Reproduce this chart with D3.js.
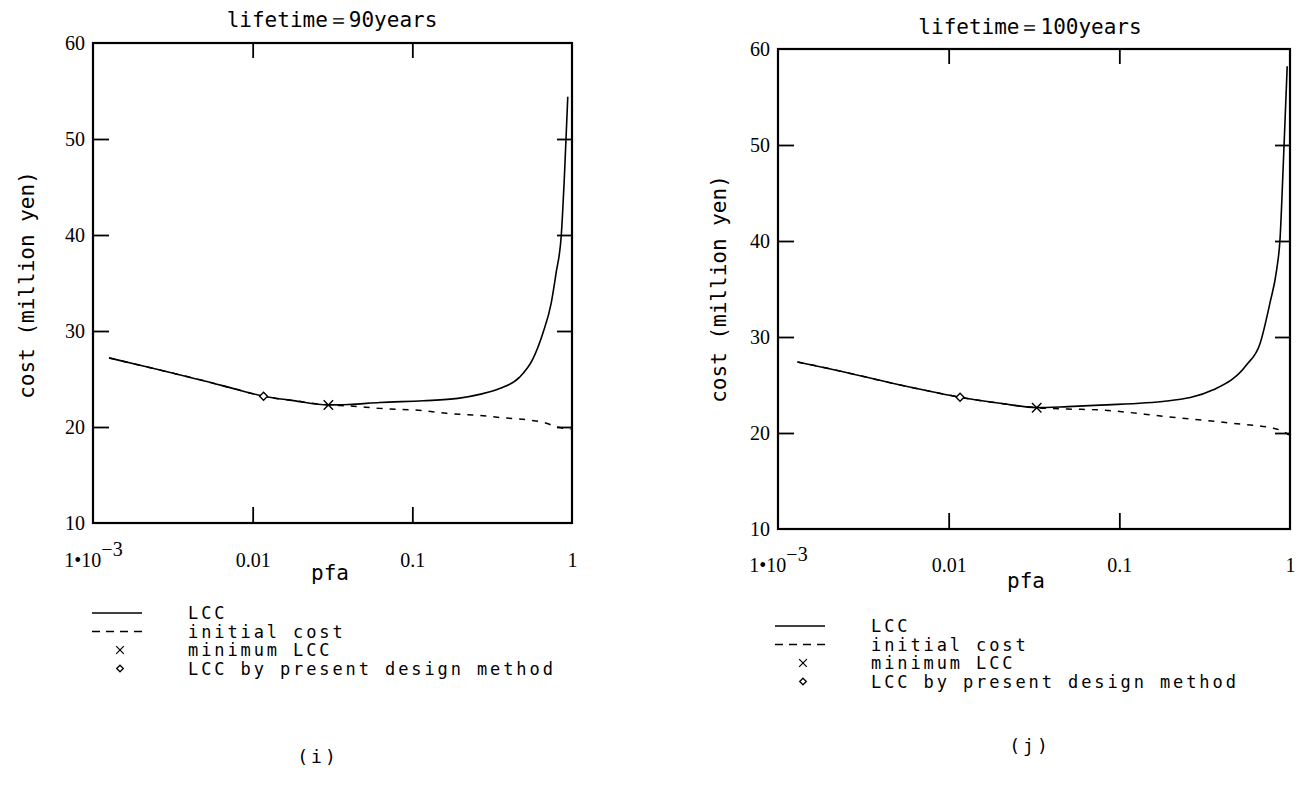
<!DOCTYPE html>
<html>
<head>
<meta charset="utf-8">
<script src="https://cdn.jsdelivr.net/npm/d3@7"></script>
<style>
  body { margin: 0; background: #fff; }
  svg text { fill: #000; }
  .mono { font-family: "DejaVu Sans Mono", "Liberation Mono", monospace; }
  .serif { font-family: "Liberation Serif", "DejaVu Serif", serif; }
</style>
</head>
<body>
<svg id="chart" width="1309" height="786"></svg>
<script>
  // ===== data: lifetime = 90 years =====
  var pfaLcc90 = [0.00126, 0.002, 0.003, 0.005, 0.008, 0.0117, 0.018, 0.0298, 0.04, 0.0626, 0.117, 0.193, 0.264, 0.352, 0.47, 0.569, 0.656, 0.741, 0.796, 0.857, 0.898, 0.941];
  var lcc90    = [27.2, 26.4, 25.7, 24.8, 23.9, 23.2, 22.75, 22.3, 22.35, 22.56, 22.73, 22.98, 23.4, 24.0, 25.2, 27.1, 29.75, 32.9, 36.1, 40.0, 46.4, 54.4];
  var pfaInit90 = [0.00126, 0.002, 0.003, 0.005, 0.008, 0.0117, 0.018, 0.0298, 0.04, 0.0626, 0.117, 0.164, 0.264, 0.369, 0.542, 0.69, 0.796, 0.941, 0.979];
  var init90    = [27.2, 26.4, 25.7, 24.8, 23.9, 23.2, 22.75, 22.3, 22.2, 21.94, 21.7, 21.42, 21.2, 20.96, 20.72, 20.4, 20.03, 19.8, 19.75];
  var minLcc90 = { pfa: 0.0298, cost: 22.3 };
  var design90 = { pfa: 0.0117, cost: 23.2 };

  // ===== data: lifetime = 100 years =====
  var pfaLcc100 = [0.0013, 0.002, 0.0052, 0.008, 0.01166, 0.02, 0.0328, 0.05, 0.077, 0.19, 0.355, 0.557, 0.667, 0.762, 0.835, 0.874, 0.914, 0.963];
  var lcc100    = [27.4, 26.7, 25.0, 24.3, 23.72, 23.1, 22.64, 22.75, 22.9, 23.33, 24.5, 27.1, 29.3, 33.5, 37.0, 40.2, 48.1, 58.2];
  var pfaInit100 = [0.0013, 0.002, 0.0052, 0.008, 0.01166, 0.02, 0.0328, 0.05, 0.077, 0.19, 0.465, 0.798, 0.955, 0.985];
  var init100    = [27.4, 26.7, 25.0, 24.3, 23.72, 23.1, 22.64, 22.5, 22.4, 21.7, 21.0, 20.5, 19.97, 19.8];
  var minLcc100 = { pfa: 0.0328, cost: 22.64 };
  var design100 = { pfa: 0.01166, cost: 23.72 };

  // ===== ticks / labels =====
  var xTickValues = [1e-3, 0.01, 0.1, 1];
  var xInnerTicks = [0.01, 0.1];
  var yTickValues = [10, 20, 30, 40, 50, 60];
  var yInnerTicks = [20, 30, 40, 50];
  var legendLabels = ['LCC', 'initial cost', 'minimum LCC', 'LCC by present design method'];

  var panels = [
    {
      title: 'lifetime＝90years', caption: '(i)',
      pfaLcc: pfaLcc90, lcc: lcc90, pfaInit: pfaInit90, init: init90,
      minLcc: minLcc90, design: design90,
      left: 93, right: 572, top: 43, bottom: 523,
      titleX: 332, titleY: 27, pfaX: 330, pfaY: 580, ylabelX: 27, ylabelY: 285,
      labelPad: 30, legendX: 92, legendY: 613, captionX: 318, captionY: 763
    },
    {
      title: 'lifetime＝100years', caption: '(j)',
      pfaLcc: pfaLcc100, lcc: lcc100, pfaInit: pfaInit100, init: init100,
      minLcc: minLcc100, design: design100,
      left: 778, right: 1290, top: 49, bottom: 529,
      titleX: 1030, titleY: 34, pfaX: 1026, pfaY: 588, ylabelX: 719, ylabelY: 289,
      labelPad: 29, legendX: 775, legendY: 626, captionX: 1030, captionY: 752
    }
  ];

  var svg = d3.select('#chart');

  var crossPath = d3.symbol().type(d3.symbolTimes || d3.symbolX).size(60);
  var diamondPath = d3.symbol().type(d3.symbolDiamond2 || d3.symbolDiamond).size(40);

  function drawPanel(p, idx) {
    var g = svg.append('g');
    var x = d3.scaleLog().domain([1e-3, 1]).range([p.left, p.right]);
    var y = d3.scaleLinear().domain([10, 60]).range([p.bottom, p.top]);

    var clipId = 'clip' + idx;
    svg.append('clipPath').attr('id', clipId)
      .append('rect')
      .attr('x', p.left).attr('y', p.top)
      .attr('width', p.right - p.left).attr('height', p.bottom - p.top);

    // 轴与刻度（向内）
    var bottomAxis = g.append('g')
      .attr('transform', 'translate(0,' + p.bottom + ')')
      .call(d3.axisBottom(x).tickValues(xTickValues).tickSize(0).tickPadding(p.labelPad)
        .tickFormat(function (d) { return d === 1e-3 ? '1\u202210' : (d === 1 ? '1' : d3.format('')(d)); }));
    bottomAxis.select('.domain').remove();
    bottomAxis.selectAll('text').attr('class', 'serif').style('font-size', '20px');
    bottomAxis.selectAll('.tick').filter(function (d) { return d === 1e-3; })
      .select('text')
      .append('tspan').attr('dy', '-0.55em').style('font-size', '20px').text('\u22123');

    g.append('g')
      .attr('transform', 'translate(0,' + p.bottom + ')')
      .call(d3.axisBottom(x).tickValues(xInnerTicks).tickSize(-16).tickFormat(''))
      .call(function (s) { s.select('.domain').remove(); });

    g.append('g')
      .attr('transform', 'translate(0,' + p.top + ')')
      .call(d3.axisTop(x).tickValues(xInnerTicks).tickSize(-15).tickFormat(''))
      .call(function (s) { s.select('.domain').remove(); });

    var leftAxis = g.append('g')
      .attr('transform', 'translate(' + p.left + ',0)')
      .call(d3.axisLeft(y).tickValues(yTickValues).tickSize(0).tickPadding(8).tickFormat(d3.format('d')));
    leftAxis.select('.domain').remove();
    leftAxis.selectAll('text').attr('class', 'serif').style('font-size', '20px');

    g.append('g')
      .attr('transform', 'translate(' + p.left + ',0)')
      .call(d3.axisLeft(y).tickValues(yInnerTicks).tickSize(-16).tickFormat(''))
      .call(function (s) { s.select('.domain').remove(); });

    g.append('g')
      .attr('transform', 'translate(' + p.right + ',0)')
      .call(d3.axisRight(y).tickValues(yInnerTicks).tickSize(-15).tickFormat(''))
      .call(function (s) { s.select('.domain').remove(); });

    g.selectAll('.tick line').attr('stroke', '#000').attr('stroke-width', 1.8);

    // 外框
    g.append('rect')
      .attr('x', p.left).attr('y', p.top)
      .attr('width', p.right - p.left).attr('height', p.bottom - p.top)
      .attr('fill', 'none').attr('stroke', '#000').attr('stroke-width', 2.2);

    var line = d3.line()
      .x(function (d) { return x(d[0]); })
      .y(function (d) { return y(d[1]); })
      .curve(d3.curveMonotoneX);

    var plot = g.append('g').attr('clip-path', 'url(#' + clipId + ')');

    plot.append('path')
      .datum(d3.zip(p.pfaInit, p.init))
      .attr('d', line)
      .attr('fill', 'none').attr('stroke', '#000').attr('stroke-width', 1.5)
      .attr('stroke-dasharray', '6,7');

    plot.append('path')
      .datum(d3.zip(p.pfaLcc, p.lcc))
      .attr('d', line)
      .attr('fill', 'none').attr('stroke', '#000').attr('stroke-width', 1.6);

    plot.append('path')
      .attr('d', crossPath())
      .attr('transform', 'translate(' + x(p.minLcc.pfa) + ',' + y(p.minLcc.cost) + ')')
      .attr('fill', 'none').attr('stroke', '#000').attr('stroke-width', 1.4);

    plot.append('path')
      .attr('d', diamondPath())
      .attr('transform', 'translate(' + x(p.design.pfa) + ',' + y(p.design.cost) + ')')
      .attr('fill', '#fff').attr('stroke', '#000').attr('stroke-width', 1.4);

    // 标题与轴标题
    g.append('text').attr('class', 'mono')
      .attr('x', p.titleX).attr('y', p.titleY)
      .attr('text-anchor', 'middle').style('font-size', '21px')
      .text(p.title);

    g.append('text').attr('class', 'mono')
      .attr('x', p.pfaX).attr('y', p.pfaY)
      .attr('text-anchor', 'middle').style('font-size', '21px')
      .text('pfa');

    g.append('text').attr('class', 'mono')
      .attr('transform', 'translate(' + p.ylabelX + ',' + p.ylabelY + ') rotate(-90)')
      .attr('text-anchor', 'middle').attr('dy', '0.35em').style('font-size', '21px')
      .text('cost (million yen)');

    // 图例
    var lg = g.append('g').attr('transform', 'translate(' + p.legendX + ',' + p.legendY + ')');
    var rowH = 18.5;
    lg.append('line').attr('x1', 0).attr('x2', 50).attr('y1', 0).attr('y2', 0)
      .attr('stroke', '#000').attr('stroke-width', 1.6);
    lg.append('line').attr('x1', 0).attr('x2', 50).attr('y1', rowH).attr('y2', rowH)
      .attr('stroke', '#000').attr('stroke-width', 1.5).attr('stroke-dasharray', '8,6');
    lg.append('path').attr('d', d3.symbol().type(d3.symbolTimes || d3.symbolX).size(40)())
      .attr('transform', 'translate(28,' + (rowH * 2) + ')')
      .attr('fill', 'none').attr('stroke', '#000').attr('stroke-width', 1.2);
    lg.append('path').attr('d', d3.symbol().type(d3.symbolDiamond2 || d3.symbolDiamond).size(28)())
      .attr('transform', 'translate(28,' + (rowH * 3) + ')')
      .attr('fill', 'none').attr('stroke', '#000').attr('stroke-width', 1.3);
    lg.selectAll('text.leg')
      .data(legendLabels)
      .join('text')
      .attr('class', 'mono leg')
      .attr('x', 96)
      .attr('y', function (d, i) { return i * rowH; })
      .attr('dy', '0.36em')
      .style('font-size', '17px')
      .style('letter-spacing', '2.9px')
      .text(function (d) { return d; });

    g.append('text').attr('class', 'mono')
      .attr('x', p.captionX).attr('y', p.captionY)
      .attr('text-anchor', 'middle').style('font-size', '18px')
      .style('letter-spacing', '3px')
      .text(p.caption);
  }

  panels.forEach(drawPanel);
</script>
</body>
</html>
